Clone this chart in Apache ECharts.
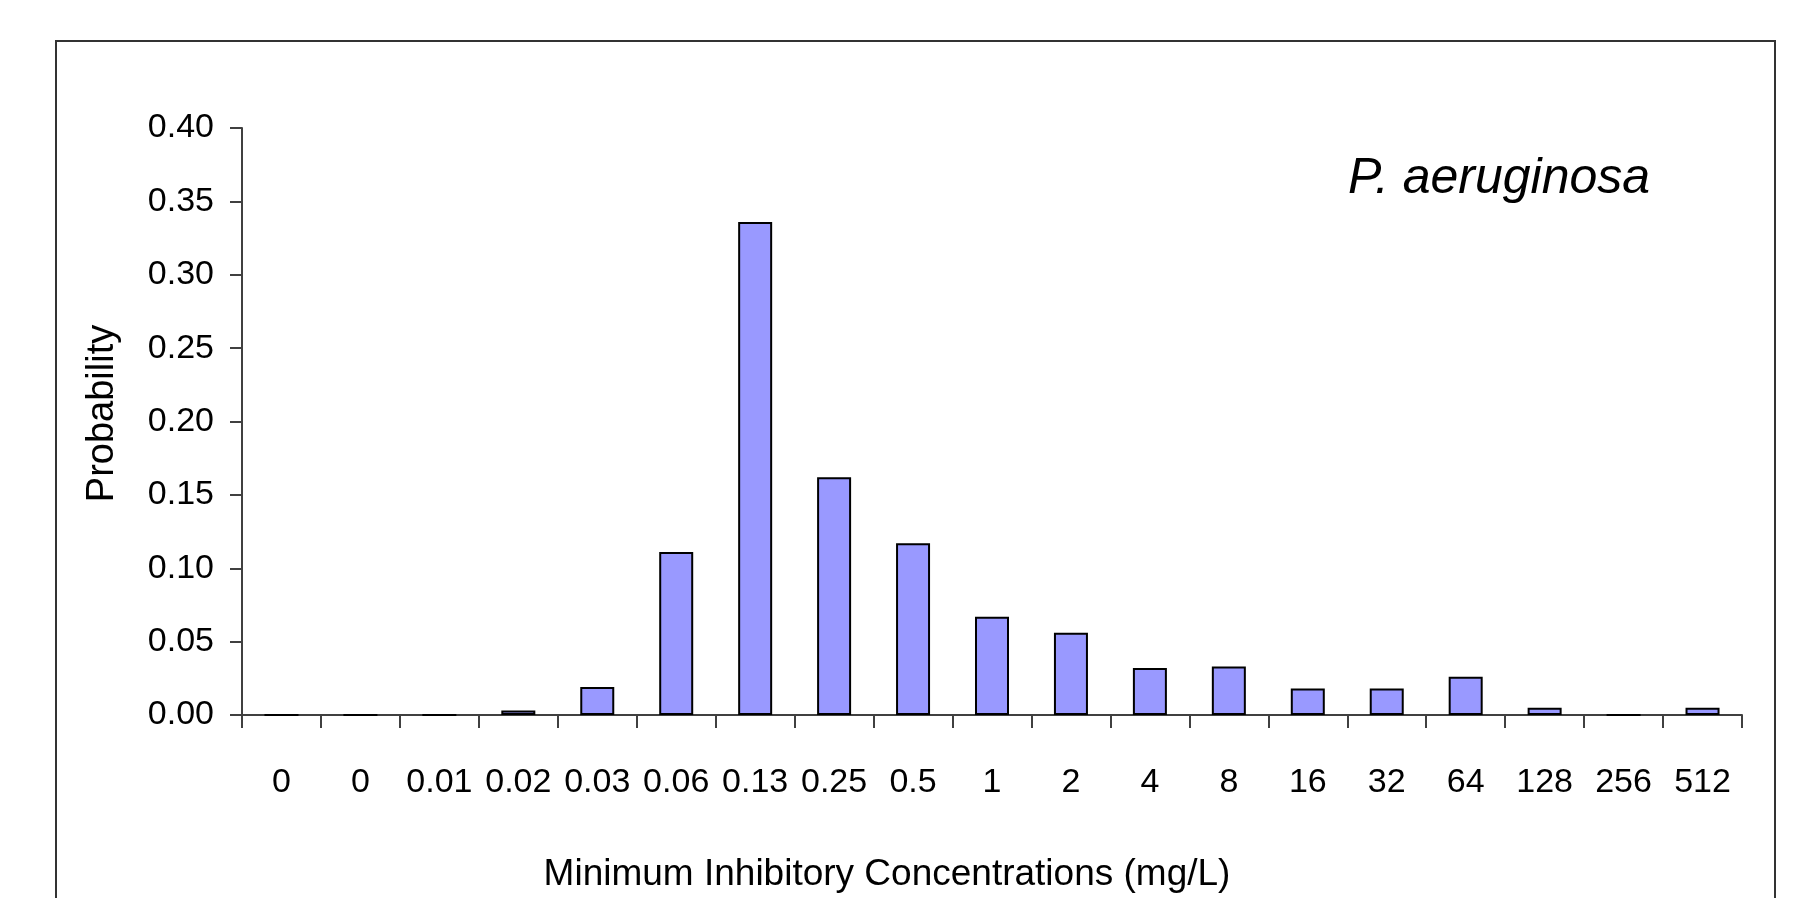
<!DOCTYPE html>
<html>
<head>
<meta charset="utf-8">
<script src="https://cdn.jsdelivr.net/npm/echarts@6/dist/echarts.min.js"></script>
<style>
  html, body { margin: 0; padding: 0; background: #ffffff; }
  #chart { width: 1802px; height: 898px; }
</style>
</head>
<body>
<div id="chart"></div>
<script>
// MIC categories (mg/L)
var categories = ['0', '0', '0.01', '0.02', '0.03', '0.06', '0.13', '0.25', '0.5', '1', '2', '4', '8', '16', '32', '64', '128', '256', '512'];
// Probability per MIC
var probabilities = [0, 0, 0, 0.003, 0.019, 0.111, 0.336, 0.162, 0.117, 0.067, 0.056, 0.032, 0.033, 0.018, 0.018, 0.026, 0.005, 0, 0.005];
var organism = 'P. aeruginosa';
var xAxisTitle = 'Minimum Inhibitory Concentrations (mg/L)';
var yAxisTitle = 'Probability';

var tickFont = "'Liberation Sans', Arial, sans-serif";
var regularFont = "'Liberation Sans', Arial, sans-serif";
var axisColor = '#404040';

var chart = echarts.init(document.getElementById('chart'), null, { renderer: 'canvas' });
chart.setOption({
  backgroundColor: '#ffffff',
  animation: false,
  title: {
    text: organism,
    left: 1343,
    top: 149,
    textStyle: { fontFamily: regularFont, fontStyle: 'italic', fontWeight: 'normal', fontSize: 50, color: '#000000' }
  },
  graphic: [{
    type: 'rect',
    shape: { x: 56, y: 41, width: 1719, height: 880 },
    style: { fill: null, stroke: '#333333', lineWidth: 2 },
    silent: true
  }],
  grid: { left: 242, right: 60, top: 128, bottom: 176, containLabel: false },
  xAxis: {
    type: 'category',
    data: categories,
    boundaryGap: true,
    name: xAxisTitle,
    nameLocation: 'middle',
    nameGap: 141,
    nameTextStyle: { fontFamily: regularFont, fontSize: 37, color: '#000000', padding: [0, 210, 0, 0] },
    axisLine: { lineStyle: { color: axisColor, width: 2 } },
    axisTick: { show: true, length: 13, alignWithLabel: false, lineStyle: { color: axisColor, width: 2 } },
    axisLabel: { interval: 0, margin: 51, fontFamily: tickFont, fontSize: 34, color: '#000000' },
    splitLine: { show: false }
  },
  yAxis: {
    type: 'value',
    min: 0,
    max: 0.4,
    interval: 0.05,
    name: yAxisTitle,
    nameLocation: 'middle',
    nameGap: 120,
    nameTextStyle: { fontFamily: regularFont, fontSize: 38, color: '#000000', padding: [0, 0, 0, 16] },
    axisLine: { show: true, lineStyle: { color: axisColor, width: 2 } },
    axisTick: { show: true, length: 12, lineStyle: { color: axisColor, width: 2 } },
    axisLabel: {
      margin: 28,
      fontFamily: tickFont,
      fontSize: 34,
      color: '#000000',
      formatter: function (v) { return v.toFixed(2); }
    },
    splitLine: { show: false }
  },
  series: [{
    type: 'bar',
    data: probabilities,
    barWidth: 34,
    itemStyle: { color: '#9999FF', borderColor: '#000000', borderWidth: 2 }
  }]
});
</script>
</body>
</html>
